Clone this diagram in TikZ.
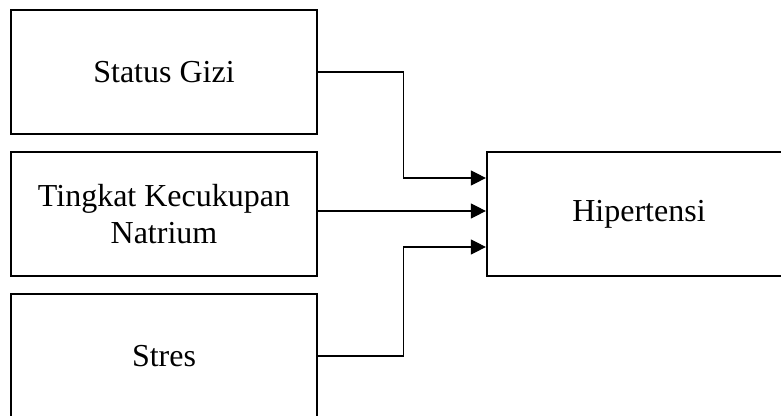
\documentclass[tikz,border=0pt]{standalone}
\usepackage{fontspec}
\setmainfont{Liberation Serif}
\usetikzlibrary{arrows.meta}
\begin{document}
\begin{tikzpicture}[x=0.5pt,y=-0.5pt,
  box/.style={draw, line width=1.1pt, rectangle, inner sep=0pt, align=center,
    font=\fontsize{16}{18.5}\selectfont},
  conn/.style={line width=0.6pt, -{Triangle[length=7.5pt,width=7.5pt]}},
  plain/.style={line width=0.6pt}]
\useasboundingbox (0,0) rectangle (781,416);
\clip (0,0) rectangle (781,416);
\node[box, minimum width=153pt, minimum height=62pt] (sg) at (164,72) {Status Gizi};
\node[box, minimum width=153pt, minimum height=62pt] (tk) at (164,214) {Tingkat Kecukupan\\Natrium};
\node[box, minimum width=153pt, minimum height=62pt] (st) at (164,356) {Stres};
\node[box, minimum width=152pt, minimum height=62pt] (hip) at (639,214) {Hipertensi};
\draw[conn] (sg.east) -- ++(85,0) |- ([yshift=18pt]hip.west);
\draw[conn] ([yshift=1.5pt]tk.east) -- ([yshift=1.5pt]hip.west);
\draw[conn] (st.east) -- ++(85,0) |- ([yshift=-16.5pt]hip.west);
\end{tikzpicture}
\end{document}
